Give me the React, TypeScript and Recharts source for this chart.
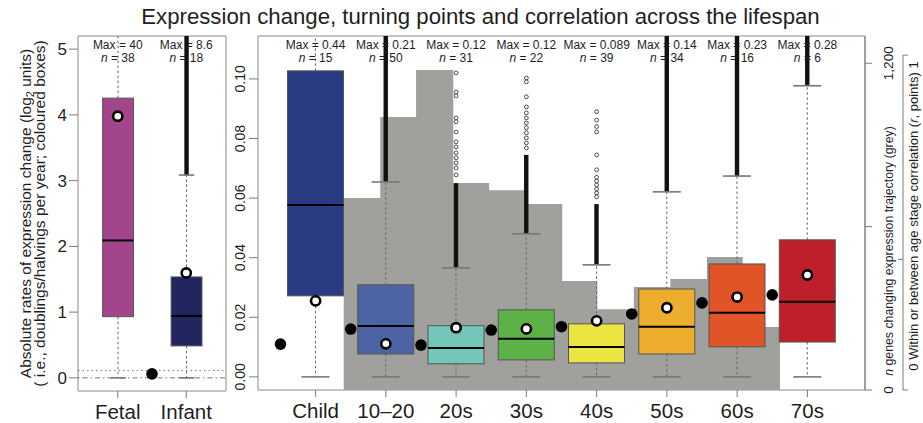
import React from "react";
import {
  ComposedChart,
  Bar,
  Area,
  Scatter,
  XAxis,
  YAxis,
  ReferenceArea,
  ReferenceLine,
  Label,
} from "recharts";

const FONT = '"Liberation Sans", Arial, Helvetica, sans-serif';
const TEXT = "#1e1e1e";
const AXIS = "#7a7a7a";
const BORDER = "#8a8a8a";
const TITLE = "Expression change, turning points and correlation across the lifespan";

// ---------------- left panel: Fetal / Infant (log2 units per year) ----------------
const LEFT_CATS = ["Fetal", "Infant"];
const LEFT_POS = [1, 2];
const LEFT_COLORS = ["#a3458b", "#23255f"];
const LEFT_Q1 = [0.93, 0.486];
const LEFT_MED = [2.09, 0.942];
const LEFT_Q3 = [4.255, 1.535];
const LEFT_WLO = [0, 0];
const LEFT_WHI = [40, 3.085];
const LEFT_DENSE_TOP: (number | null)[] = [null, 8.6];
const LEFT_MEAN = [3.98, 1.596];
const LEFT_MAX = ["40", "8.6"];
const LEFT_N = [38, 18];
const LEFT_CORR_POS = [1.5];
const LEFT_CORR = [0.06];
const LEFT_YTICKS = [0, 1, 2, 3, 4, 5];
const LEFT_YDOMAIN: [number, number] = [-0.2, 5.2];
const LEFT_XDOMAIN: [number, number] = [0.42, 2.58];
const LEFT_DOTTED_Y = 0.11;
const LEFT_DOTDASH_Y = 0;

// ---------------- right panel: Child .. 70s ----------------
const CATS = ["Child", "10–20", "20s", "30s", "40s", "50s", "60s", "70s"];
const POS = [1, 2, 3, 4, 5, 6, 7, 8];
const COLORS = ["#293b83", "#4c63a4", "#74c6bb", "#5cb147", "#ebe541", "#eeae2d", "#e05427", "#be1f2b"];
const Q1 = [0.0272, 0.0077, 0.0044, 0.0057, 0.0047, 0.0077, 0.0101, 0.0117];
const MED = [0.0577, 0.0171, 0.0097, 0.0128, 0.01, 0.0168, 0.0215, 0.0252];
const Q3 = [0.1027, 0.0309, 0.0172, 0.0225, 0.0178, 0.0295, 0.0379, 0.046];
const WLO = [0, 0, 0, 0, 0, 0, 0, 0];
const WHI = [0.44, 0.0654, 0.0366, 0.048, 0.0376, 0.0621, 0.0674, 0.0977];
const MAXV = ["0.44", "0.21", "0.12", "0.12", "0.089", "0.14", "0.23", "0.28"];
const NV = [15, 50, 31, 22, 39, 34, 16, 6];
const DENSE_TOP: (number | null)[] = [null, 0.21, 0.065, 0.0745, 0.058, 0.14, 0.23, 0.28];
const MEANS = [0.0255, 0.0111, 0.0165, 0.0161, 0.0188, 0.0232, 0.0268, 0.0342];
const OUT_20S = [0.102, 0.0956, 0.0943, 0.0869, 0.0856, 0.0822, 0.0789, 0.0772, 0.0752, 0.0735, 0.0718, 0.0701, 0.0678];
const OUT_30S = [0.1003, 0.099, 0.094, 0.0906, 0.0886, 0.0869, 0.0852, 0.0836, 0.0819, 0.0802, 0.0785, 0.0768];
const OUT_40S = [0.089, 0.0862, 0.084, 0.0822, 0.0745, 0.0695, 0.067, 0.0657, 0.0644, 0.063, 0.0617, 0.0604];
const SPARSE_OUTLIERS: number[][] = [[], [], OUT_20S, OUT_30S, OUT_40S, [], [], []];
const CORR_POS = [0.5, 1.5, 2.5, 3.5, 4.5, 5.5, 6.5, 7.5];
const CORR_R = [0.137, 0.182, 0.134, 0.179, 0.189, 0.227, 0.26, 0.284];
const GREY_X = [1.4, 1.92, 2.43, 2.96, 3.47, 3.99, 4.51, 5.01, 5.53, 6.05, 6.57, 7.08, 7.61];
const GREY_N = [705, 1003, 1175, 760, 734, 683, 400, 297, 378, 408, 488, 231];
const RATE_TICKS = [0, 0.02, 0.04, 0.06, 0.08, 0.1];
const RATE_DOMAIN: [number, number] = [-0.0044, 0.1144];
const GENE_TICKS = [0, 600, 1200];
const GENE_DOMAIN: [number, number] = [0, 1300];
const CORR_TICKS = [0, 0.39, 1];
const CORR_DOMAIN: [number, number] = [0, 1.057];
const XDOMAIN: [number, number] = [0.18, 8.82];

// ---------------- derived tables ----------------
type Box = { pos: number; q1: number; med: number; q3: number; lo: number; hi: number; dense: number | null; color: string };

const LEFT_BOXES: Box[] = LEFT_POS.map((p, i) => ({
  pos: p, q1: LEFT_Q1[i], med: LEFT_MED[i], q3: LEFT_Q3[i], lo: LEFT_WLO[i], hi: LEFT_WHI[i], dense: LEFT_DENSE_TOP[i], color: LEFT_COLORS[i],
}));
const RIGHT_BOXES: Box[] = POS.map((p, i) => ({
  pos: p, q1: Q1[i], med: MED[i], q3: Q3[i], lo: WLO[i], hi: WHI[i], dense: DENSE_TOP[i], color: COLORS[i],
}));
const LEFT_MEAN_DATA = LEFT_POS.map((p, i) => ({ pos: p, v: LEFT_MEAN[i] }));
const LEFT_CORR_DATA = LEFT_CORR_POS.map((p, i) => ({ pos: p, v: LEFT_CORR[i] }));
const LEFT_LABEL_DATA = LEFT_POS.map((p) => ({ pos: p, v: LEFT_YDOMAIN[1] }));
const MEAN_DATA = POS.map((p, i) => ({ pos: p, v: MEANS[i] }));
const CORR_DATA = CORR_POS.map((p, i) => ({ pos: p, v: CORR_R[i] }));
const LABEL_DATA = POS.map((p) => ({ pos: p, v: RATE_DOMAIN[1] }));
const SPARSE_DATA = SPARSE_OUTLIERS.flatMap((arr, i) => arr.map((v) => ({ pos: POS[i], v })));
const GREY_DATA = GREY_X.map((x, i) => ({ pos: x, n: GREY_N[Math.min(i, GREY_N.length - 1)] }));

// ---------------- shapes ----------------
function makeBoxShape(data: Box[], domainTop: number) {
  return function BoxShape(props: any) {
    const { x, y, width, height, index } = props;
    const d: Box = data[index] ?? props.payload;
    const top = Math.min(y, y + height);
    const h = Math.abs(height);
    const ppu = h / (d.q3 - d.q1);
    const py = (v: number) => top + (d.q3 - v) * ppu;
    const cx = x + width / 2;
    const yTop = py(domainTop);
    const hiY = Math.max(py(d.hi), yTop);
    const capHalf = width / 4;
    const loY = py(d.lo);
    const denseY = d.dense != null ? Math.max(py(d.dense), yTop) : null;
    return (
      <g>
        <line x1={cx} x2={cx} y1={top + h} y2={loY} stroke="#666" strokeDasharray="2.5 2.5" />
        <line x1={cx} x2={cx} y1={top} y2={hiY} stroke="#666" strokeDasharray="2.5 2.5" />
        {denseY != null && (
          <rect x={cx - 2.2} y={denseY} width={4.4} height={Math.max(0, hiY - denseY)} fill="#111" />
        )}
        <line x1={cx - capHalf} x2={cx + capHalf} y1={loY} y2={loY} stroke="#777" strokeWidth={1.6} />
        {d.hi <= domainTop && (
          <line x1={cx - capHalf} x2={cx + capHalf} y1={hiY} y2={hiY} stroke="#777" strokeWidth={1.6} />
        )}
        <rect x={x} y={top} width={width} height={h} fill={d.color} stroke="#555" strokeWidth={1} />
        <line x1={x} x2={x + width} y1={py(d.med)} y2={py(d.med)} stroke="#000" strokeWidth={2} />
      </g>
    );
  };
}

const MeanDot = (p: any) => <circle cx={p.cx} cy={p.cy} r={4.6} fill="#fff" stroke="#000" strokeWidth={2.6} />;
const CorrDot = (p: any) => <circle cx={p.cx} cy={p.cy} r={5.8} fill="#000" />;
const OutlierDot = (p: any) => <circle cx={p.cx} cy={p.cy} r={1.9} fill="#fff" stroke="#222" strokeWidth={0.8} />;

function makeTopLabel(maxes: string[], ns: number[], positions: number[]) {
  return function TopLabel(props: any) {
    const { cx, cy } = props;
    const i = props.payload && props.payload.pos != null ? positions.indexOf(props.payload.pos) : props.index;
    if (i == null || i < 0) return <g />;
    return (
      <g>
        <text x={cx} y={cy + 13} textAnchor="middle" fontSize={12} fill={TEXT}>
          {"Max = " + maxes[i]}
        </text>
        <text x={cx} y={cy + 26} textAnchor="middle" fontSize={12} fill={TEXT}>
          <tspan fontStyle="italic">n</tspan>
          <tspan>{" = " + ns[i]}</tspan>
        </text>
      </g>
    );
  };
}

// ---------------- ticks & labels ----------------
const RateTick = (props: any) => {
  const { x, y, payload } = props;
  const tx = x - 3.5;
  return (
    <text x={tx} y={y} transform={`rotate(-90 ${tx} ${y})`} textAnchor="middle" fontSize={14} fill={TEXT}>
      {Number(payload.value).toFixed(2)}
    </text>
  );
};

const GeneTick = (props: any) => {
  const { x, y, payload } = props;
  const v = payload.value;
  if (v !== 0 && v !== 1200) return <g />;
  const tx = x + 21;
  return (
    <text x={tx} y={y} transform={`rotate(-90 ${tx} ${y})`} textAnchor="middle" fontSize={13.5} fill={TEXT}>
      {v === 0 ? "0" : "1,200"}
    </text>
  );
};

let corrPrevY: number | null = null;
const CorrTick = (props: any) => {
  const { x, y, index, payload } = props;
  const lx = x + 6;
  const prev = index === 0 ? null : corrPrevY;
  corrPrevY = y;
  const v = payload.value;
  const mid = v > 0 && v < 1;
  return (
    <g>
      {prev != null && <line x1={lx} x2={lx} y1={prev} y2={y} stroke={AXIS} />}
      <line x1={mid ? lx - 5 : lx} x2={mid ? lx : lx + 5} y1={y} y2={y} stroke={AXIS} />
    </g>
  );
};

const LeftTitle = (props: any) => {
  const vb = props.viewBox;
  const cy = vb.y + vb.height / 2;
  const x1 = vb.x + 31;
  const x2 = vb.x + 45;
  return (
    <g>
      <text x={x1} y={cy} transform={`rotate(-90 ${x1} ${cy})`} textAnchor="middle" fontSize={15.5} fill={TEXT}>
        <tspan>Absolute rates of expression change (log</tspan>
        <tspan dy={3} fontSize={11}>2</tspan>
        <tspan dy={-3}> units)</tspan>
      </text>
      <text x={x2} y={cy} transform={`rotate(-90 ${x2} ${cy})`} textAnchor="middle" fontSize={15.5} fill={TEXT}>
        ( i.e., doublings/halvings per year; coloured boxes)
      </text>
    </g>
  );
};

const GeneTitle = (props: any) => {
  const vb = props.viewBox;
  const tx = vb.x + 28;
  const ty = vb.y + 215;
  return (
    <text x={tx} y={ty} transform={`rotate(-90 ${tx} ${ty})`} textAnchor="middle" fontSize={12.3} fill={TEXT}>
      <tspan fontStyle="italic">n</tspan>
      <tspan> genes changing expression trajectory (grey)</tspan>
    </text>
  );
};

const CorrTitle = (props: any) => {
  const vb = props.viewBox;
  const tx = vb.x + 21;
  const ty = vb.y + 180;
  return (
    <text x={tx} y={ty} transform={`rotate(-90 ${tx} ${ty})`} textAnchor="middle" fontSize={13} fill={TEXT}>
      <tspan>0 Within or between age stage correlation (</tspan>
      <tspan fontStyle="italic">r</tspan>
      <tspan>, points) 1</tspan>
    </text>
  );
};

const leftBoxShape = makeBoxShape(LEFT_BOXES, LEFT_YDOMAIN[1]);
const rightBoxShape = makeBoxShape(RIGHT_BOXES, RATE_DOMAIN[1]);
const leftTopLabel = makeTopLabel(LEFT_MAX, LEFT_N, LEFT_POS);
const rightTopLabel = makeTopLabel(MAXV, NV, POS);

const CAT_FONT = 20.5;

export default function App() {
  return (
    <div
      style={{
        position: "absolute",
        left: 0,
        top: 0,
        width: 923,
        height: 423,
        fontFamily: FONT,
        background: "#fff",
        color: TEXT,
        overflow: "hidden",
      }}
    >
      <div
        style={{
          position: "absolute",
          left: 0,
          top: 4,
          width: 961,
          textAlign: "center",
          fontSize: 22.2,
          lineHeight: "26px",
          whiteSpace: "nowrap",
        }}
      >
        {TITLE}
      </div>

      {/* left panel */}
      <div style={{ position: "absolute", left: 0, top: 0 }}>
        <ComposedChart width={240} height={423} data={LEFT_BOXES} margin={{ top: 36, right: 14, bottom: 0, left: 0 }}>
          <XAxis
            dataKey="pos"
            type="number"
            domain={LEFT_XDOMAIN}
            ticks={LEFT_POS}
            interval={0}
            allowDataOverflow
            tickFormatter={(v: number) => LEFT_CATS[LEFT_POS.indexOf(v)]}
            height={32}
            tickSize={7}
            tickMargin={6}
            axisLine={false}
            stroke={AXIS}
            tick={{ fontSize: CAT_FONT, fill: TEXT }}
          />
          <YAxis
            type="number"
            domain={LEFT_YDOMAIN}
            ticks={LEFT_YTICKS}
            interval={0}
            allowDataOverflow
            width={78}
            tickSize={9}
            tickMargin={2}
            axisLine={false}
            stroke={AXIS}
            tick={{ fontSize: 17, fill: TEXT }}
            label={<Label content={LeftTitle} />}
          />
          <ReferenceArea
            x1={LEFT_XDOMAIN[0]}
            x2={LEFT_XDOMAIN[1]}
            y1={LEFT_YDOMAIN[0]}
            y2={LEFT_YDOMAIN[1]}
            fill="none"
            stroke={BORDER}
          />
          <ReferenceLine y={LEFT_DOTTED_Y} stroke="#777" strokeDasharray="1.5 3" />
          <ReferenceLine y={LEFT_DOTDASH_Y} stroke="#777" strokeDasharray="1.5 3 5 3" />
          <Bar dataKey={(d: Box) => [d.q1, d.q3]} barSize={55} shape={leftBoxShape} isAnimationActive={false} />
          <Scatter data={LEFT_MEAN_DATA} dataKey="v" shape={MeanDot} isAnimationActive={false} />
          <Scatter data={LEFT_CORR_DATA} dataKey="v" shape={CorrDot} isAnimationActive={false} />
          <Scatter data={LEFT_LABEL_DATA} dataKey="v" shape={leftTopLabel} isAnimationActive={false} />
        </ComposedChart>
      </div>

      {/* right panel: axes, grey trajectory counts, correlation points */}
      <div style={{ position: "absolute", left: 230, top: 0 }}>
        <ComposedChart width={693} height={423} margin={{ top: 36, right: 0, bottom: 0, left: 0 }}>
          <XAxis
            dataKey="pos"
            type="number"
            domain={XDOMAIN}
            ticks={POS}
            interval={0}
            allowDataOverflow
            tickFormatter={(v: number) => CATS[POS.indexOf(v)]}
            height={33}
            tickSize={7}
            tickMargin={6}
            axisLine={false}
            stroke={AXIS}
            tick={{ fontSize: CAT_FONT, fill: TEXT }}
          />
          <YAxis
            yAxisId="left"
            orientation="left"
            type="number"
            domain={RATE_DOMAIN}
            ticks={RATE_TICKS}
            interval={0}
            allowDataOverflow
            width={28}
            tickSize={9}
            tickMargin={0}
            axisLine={false}
            stroke={AXIS}
            tick={RateTick}
          />
          <YAxis
            yAxisId="r"
            orientation="right"
            type="number"
            domain={GENE_DOMAIN}
            ticks={GENE_TICKS}
            interval={0}
            allowDataOverflow
            width={32}
            tickSize={7}
            tickMargin={0}
            stroke={AXIS}
            axisLine={{ stroke: AXIS }}
            tick={GeneTick}
            label={<Label content={GeneTitle} />}
          />
          <YAxis
            yAxisId="r2"
            orientation="right"
            type="number"
            domain={CORR_DOMAIN}
            ticks={CORR_TICKS}
            interval={0}
            allowDataOverflow
            width={26}
            tickSize={0}
            tickMargin={0}
            tickLine={false}
            axisLine={false}
            tick={CorrTick}
            label={<Label content={CorrTitle} />}
          />
          <ReferenceArea
            yAxisId="left"
            x1={XDOMAIN[0]}
            x2={XDOMAIN[1]}
            y1={RATE_DOMAIN[0]}
            y2={RATE_DOMAIN[1]}
            fill="none"
            stroke={BORDER}
          />
          <Area
            yAxisId="r"
            data={GREY_DATA}
            dataKey="n"
            type="stepAfter"
            fill="#a0a09c"
            fillOpacity={1}
            stroke="none"
            dot={false}
            activeDot={false}
            isAnimationActive={false}
          />
          <Scatter yAxisId="r2" data={CORR_DATA} dataKey="v" shape={CorrDot} isAnimationActive={false} />
        </ComposedChart>
      </div>

      {/* right panel: boxes, outliers, means, labels (same plot area) */}
      <div style={{ position: "absolute", left: 230, top: 0 }}>
        <ComposedChart width={693} height={423} data={RIGHT_BOXES} margin={{ top: 36, right: 58, bottom: 33, left: 28 }}>
          <XAxis hide dataKey="pos" type="number" domain={XDOMAIN} ticks={POS} allowDataOverflow />
          <YAxis hide yAxisId="left" type="number" domain={RATE_DOMAIN} allowDataOverflow />
          <Bar yAxisId="left" dataKey={(d: Box) => [d.q1, d.q3]} barSize={56} shape={rightBoxShape} isAnimationActive={false} />
          <Scatter yAxisId="left" data={SPARSE_DATA} dataKey="v" shape={OutlierDot} isAnimationActive={false} />
          <Scatter yAxisId="left" data={MEAN_DATA} dataKey="v" shape={MeanDot} isAnimationActive={false} />
          <Scatter yAxisId="left" data={LABEL_DATA} dataKey="v" shape={rightTopLabel} isAnimationActive={false} />
        </ComposedChart>
      </div>
    </div>
  );
}
